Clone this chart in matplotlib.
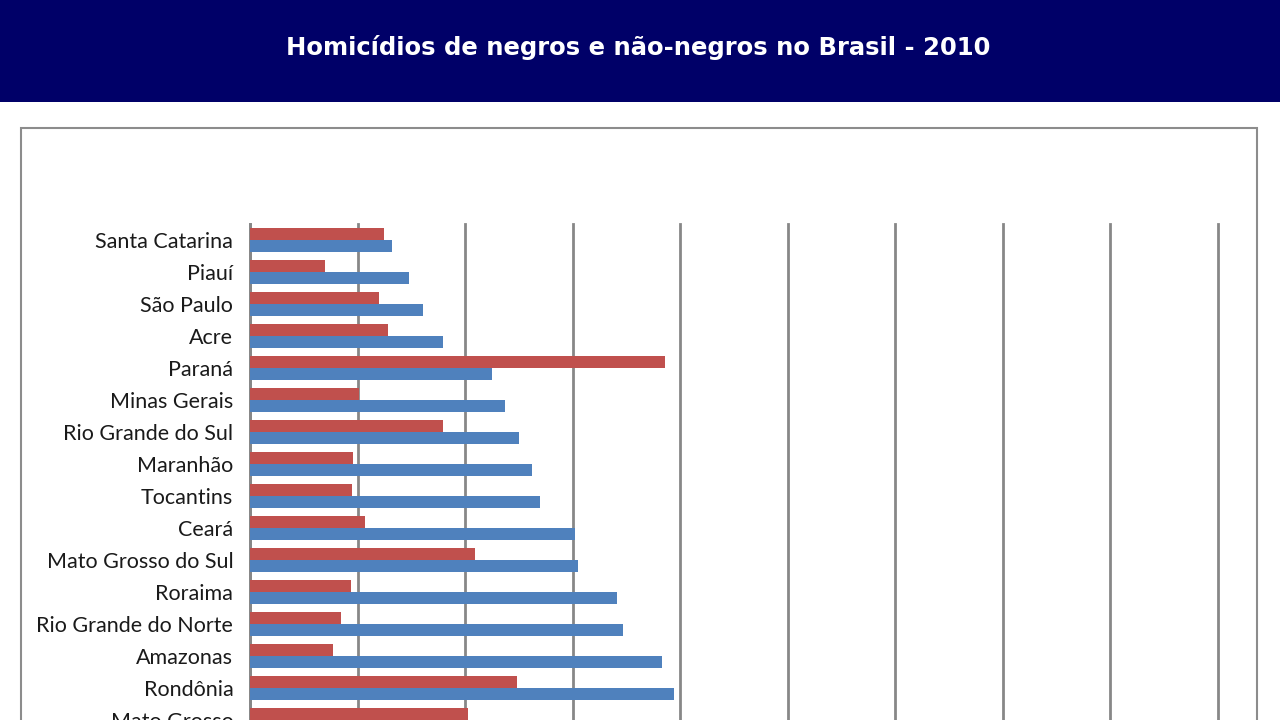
import numpy as np
import matplotlib.pyplot as plt
from matplotlib.patches import Rectangle

# dados (taxa de homicidios)
estados = ['Santa Catarina', 'Piauí', 'São Paulo', 'Acre', 'Paraná', 'Minas Gerais',
           'Rio Grande do Sul', 'Maranhão', 'Tocantins', 'Ceará', 'Mato Grosso do Sul',
           'Roraima', 'Rio Grande do Norte', 'Amazonas', 'Rondônia', 'Mato Grosso']
nao_negros = [12.5, 7.0, 12.0, 12.8, 38.6, 10.1, 17.9, 9.6, 9.5, 10.7, 20.9,
              9.4, 8.5, 7.7, 24.8, 20.3]
negros = [13.2, 14.8, 16.1, 17.9, 22.5, 23.7, 25.0, 26.2, 27.0, 30.2, 30.5,
          34.1, 34.7, 38.3, 39.4, 41.0]

red = '#C0504D'
blue = '#4F81BD'
navy = '#000068'

W, H = 1280, 720
fig = plt.figure(figsize=(12.8, 7.2), dpi=100)
fig.patch.set_facecolor('white')

# faixa do titulo
fig.patches.append(Rectangle((0, 1 - 102 / H), 1, 102 / H, transform=fig.transFigure,
                             facecolor=navy, edgecolor='none', zorder=0))
fig.text(638 / W, 1 - 48 / H, 'Homicídios de negros e não-negros no Brasil - 2010',
         color='white', fontsize=17.5, fontweight='bold', family='DejaVu Sans',
         ha='center', va='center')

# moldura do grafico
fig.patches.append(Rectangle((21 / W, -0.1), (1257 - 21) / W, 1 - 128 / H + 0.1,
                             transform=fig.transFigure, facecolor='white',
                             edgecolor='#8c8c8c', linewidth=1.5, zorder=0))

n = len(estados)
row = 32.0
top = 224
ax = fig.add_axes([250 / W, 1 - (top + n * row) / H, 968 / W, n * row / H])
ax.set_zorder(2)
ax.set_facecolor('none')

y = np.arange(n)
h = 0.36
ax.barh(y - 0.19, nao_negros, height=h, color=red, zorder=3)
ax.barh(y + 0.19, negros, height=h, color=blue, zorder=3)

ax.set_xlim(0, 90)
ax.set_ylim(n - 0.5, -0.5)
ax.set_xticks(np.arange(0, 91, 10))
ax.xaxis.grid(True, color='#878787', linewidth=2)
for t in ax.xaxis.get_major_ticks():
    t.gridline.set_clip_on(False)
ax.set_axisbelow(True)
ax.tick_params(axis='x', length=0, labelbottom=False)
ax.set_yticks(y)
ax.set_yticklabels(estados, family='Lato', fontsize=15.5, color='#1a1a1a')
ax.tick_params(axis='y', length=0, pad=12)
for s in ['top', 'right', 'bottom']:
    ax.spines[s].set_visible(False)
ax.spines['left'].set_color('#878787')
ax.spines['left'].set_linewidth(2)

fig.savefig('out.png', dpi=100)
